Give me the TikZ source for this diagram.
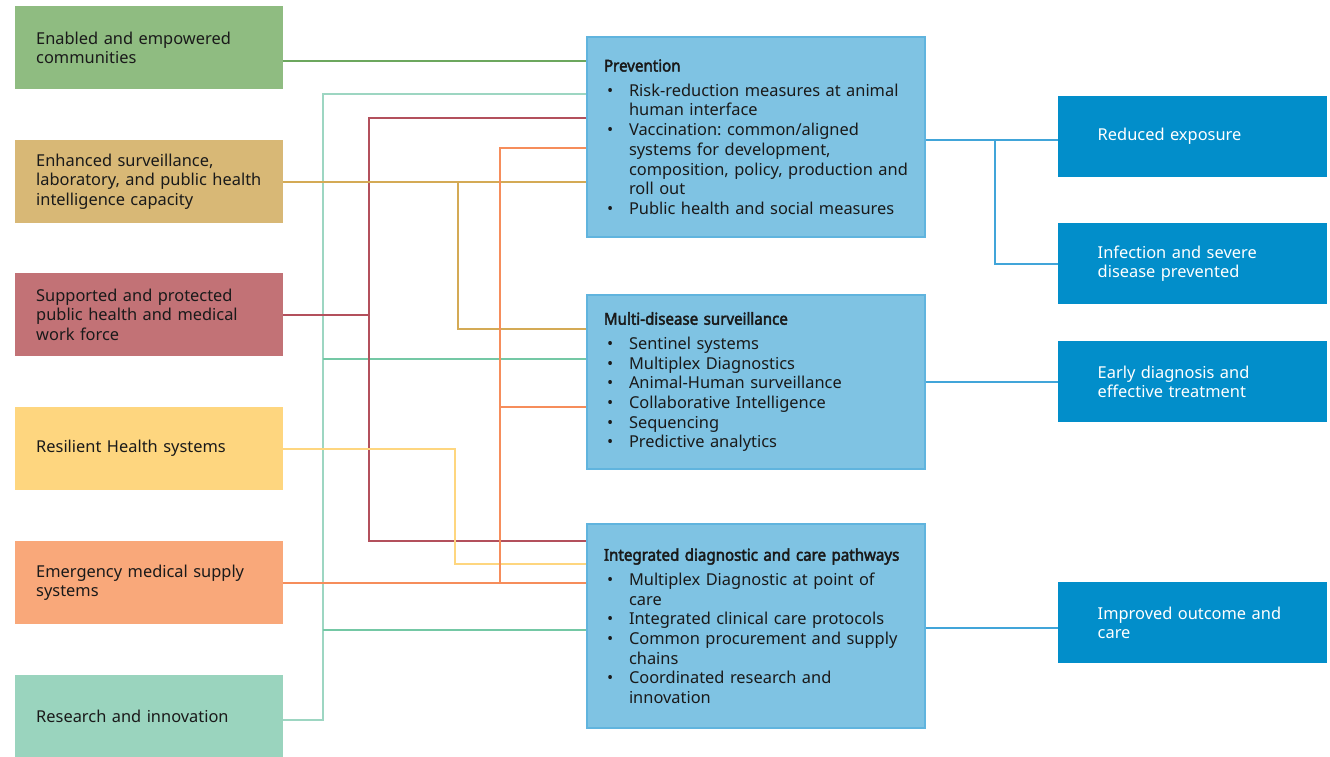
\documentclass[tikz,border=0pt]{standalone}
\usepackage{fontspec}
\setmainfont{Noto Sans}
\newfontfamily\headfont[FakeStretch=0.92, FakeBold=2.6]{Noto Sans}

\definecolor{ink}{HTML}{1A1A1A}
\definecolor{commfill}{HTML}{8FBC81}
\definecolor{commline}{HTML}{6CA75E}
\definecolor{survfill}{HTML}{D8B876}
\definecolor{survline}{HTML}{D4AA55}
\definecolor{workfill}{HTML}{C27276}
\definecolor{workline}{HTML}{B3505C}
\definecolor{hsfill}{HTML}{FED67F}
\definecolor{hsline}{HTML}{FED67F}
\definecolor{suppfill}{HTML}{F9A87A}
\definecolor{suppline}{HTML}{F68D5B}
\definecolor{resfill}{HTML}{9AD4BE}
\definecolor{resline}{HTML}{9DD6C2}
\definecolor{resbranch}{HTML}{74C8A5}
\definecolor{pillarfill}{HTML}{7FC3E3}
\definecolor{pillarline}{HTML}{60B4DE}
\definecolor{outfill}{HTML}{028ECA}
\definecolor{outline}{HTML}{41A5D9}

\newcommand\bulitem{\makebox[25pt][l]{\hspace{3pt}\textbullet}}
\newcommand\contline{\hspace*{25pt}}

\begin{document}
\begin{tikzpicture}[
  x=1pt, y=-1pt,
  every node/.style={font=\fontsize{16.4}{19.7}\selectfont\frenchspacing, inner sep=0pt},
  cause/.style={anchor=north west, minimum width=268pt, minimum height=83pt,
    text width=226pt, align=left, text=ink},
  pillar/.style={anchor=north west, draw=pillarline, line width=2pt, fill=pillarfill,
    minimum width=338pt, text width=304pt, align=left, text=ink},
  outcome/.style={anchor=north west, fill=outfill, minimum width=269pt,
    minimum height=81pt, text width=190pt, align=left, text=white},
  link/.style={line width=2pt}
]
\useasboundingbox (0,0) rectangle (1330,756);

\node[cause, fill=commfill] (comm) at (15,6) {Enabled and empowered\\communities};
\node[cause, fill=survfill] (surv) at (15,140) {Enhanced surveillance,\\laboratory, and public health\\intelligence capacity};
\node[cause, fill=workfill] (work) at (15,273) {Supported and protected\\public health and medical\\work force};
\node[cause, fill=hsfill] (hs) at (15,407) {Resilient Health systems};
\node[cause, fill=suppfill] (supp) at (15,541) {Emergency medical supply\\systems};
\node[cause, fill=resfill] (res) at (15,675) {Research and innovation};

\node[pillar, minimum height=200pt] (prev) at (586,36) {%
  {\headfont Prevention}\\[5pt]
  \bulitem Risk-reduction measures at animal\\
  \contline human interface\\
  \bulitem Vaccination: common/aligned\\
  \contline systems for development,\\
  \contline composition, policy, production and\\
  \contline roll out\\
  \bulitem Public health and social measures};
\node[pillar, minimum height=174pt] (multi) at (586,294) {%
  {\headfont Multi-disease surveillance}\\[5pt]
  \bulitem Sentinel systems\\
  \bulitem Multiplex Diagnostics\\
  \bulitem Animal-Human surveillance\\
  \bulitem Collaborative Intelligence\\
  \bulitem Sequencing\\
  \bulitem Predictive analytics};
\node[pillar, minimum height=204pt] (integ) at (586,523) {%
  {\headfont Integrated diagnostic and care pathways}\\[5pt]
  \bulitem Multiplex Diagnostic at point of\\
  \contline care\\
  \bulitem Integrated clinical care protocols\\
  \bulitem Common procurement and supply\\
  \contline chains\\
  \bulitem Coordinated research and\\
  \contline innovation};

\node[outcome] (redx) at (1058,96) {Reduced exposure};
\node[outcome] (infx) at (1058,223) {Infection and severe\\disease prevented};
\node[outcome] (early) at (1058,341) {Early diagnosis and\\effective treatment};
\node[outcome] (impr) at (1058,582) {Improved outcome and\\care};

\draw[link, commline] ([yshift=-13.5pt]comm.east) -- ([yshift=-13.5pt]comm.east -| prev.west);
\draw[link, resline] ([yshift=-3.5pt]res.east) -| (323,94) -- (prev.west |- 0,94);
\draw[link, resbranch] (323,359) -- (multi.west |- 0,359);
\draw[link, resbranch] (323,630) -- (integ.west |- 0,630);
\draw[link, workline] (prev.west |- 0,118) -| (369,541) -- (integ.west |- 0,541);
\draw[link, workline] (work.east) -- (work.east -| 369,0);
\draw[link, survline] (surv.east) -- (surv.east -| prev.west);
\draw[link, survline] (458,182) |- (multi.west |- 0,329);
\draw[link, hsline] (hs.east) -| (455,564) -- (integ.west |- 0,564);
\draw[link, suppline] (supp.east) -- (supp.east -| integ.west);
\draw[link, suppline] (500,584) |- (prev.west |- 0,148);
\draw[link, suppline] (500,407) -- (multi.west |- 0,407);

\draw[link, outline] (prev.east |- 0,140) -- (redx.west |- 0,140);
\draw[link, outline] (995,140) |- (infx.west);
\draw[link, outline] (multi.east |- early.west) -- (early.west);
\draw[link, outline] (integ.east |- 0,628) -- (impr.west |- 0,628);
\end{tikzpicture}
\end{document}
